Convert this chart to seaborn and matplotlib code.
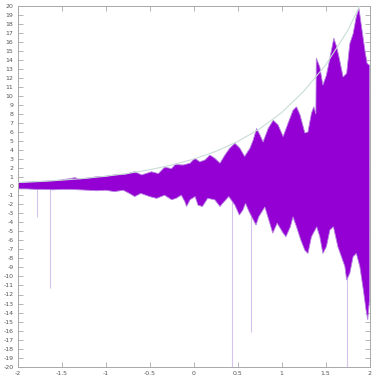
import numpy as np
import matplotlib
matplotlib.use("Agg")
import matplotlib.pyplot as plt
import seaborn as sns

# Smooth grey envelope curve
env_x = [-2.0, -1.75, -1.5, -1.25, -1.0, -0.75, -0.5, -0.25, 0.0, 0.25, 0.5,
         0.75, 1.0, 1.25, 1.5, 1.75, 2.0]
env_y = [0.41, 0.52, 0.67, 0.86, 1.1, 1.42, 1.82, 2.34, 3.0, 3.85, 4.95,
         6.35, 8.15, 10.5, 13.4, 17.2, 22.2]

# Upper edge of the dense purple signal
up_x = [-2.0, -1.9, -1.8, -1.7, -1.6, -1.5, -1.4, -1.35, -1.3, -1.2, -1.1, -1.0,
        -0.9, -0.78, -0.67, -0.59, -0.48, -0.40, -0.33, -0.25, -0.21, -0.12,
        -0.04, 0.015, 0.07, 0.128, 0.185, 0.24, 0.30, 0.356, 0.41, 0.47, 0.527,
        0.58, 0.64, 0.677, 0.716, 0.753, 0.79, 0.848, 0.905, 0.96, 1.018, 1.075,
        1.13, 1.17, 1.21, 1.265, 1.30, 1.34, 1.367, 1.39, 1.395, 1.435, 1.47,
        1.51, 1.55, 1.594, 1.625, 1.66, 1.70, 1.74, 1.776, 1.814, 1.85, 1.88,
        1.909, 1.947, 1.973, 2.0]
up_y = [0.4, 0.45, 0.5, 0.55, 0.6, 0.7, 0.85, 0.95, 0.8, 0.9, 1.05, 1.1,
        1.25, 1.3, 1.6, 1.25, 1.6, 1.4, 2.1, 1.95, 2.4, 2.35,
        2.55, 3.1, 2.7, 2.9, 3.45, 3.1, 2.55, 3.45, 4.2, 4.75, 4.2,
        3.3, 4.2, 5.1, 6.4, 5.7, 4.9, 6.4, 7.3, 6.8, 5.5, 7.0,
        8.4, 8.8, 7.9, 5.9, 6.0, 8.1, 8.8, 8.0, 14.2, 13.2, 11.2,
        12.3, 14.2, 16.4, 15.5, 14.0, 12.1, 12.5, 15.8, 16.9, 18.8, 19.7,
        17.7, 15.1, 13.6, 13.4]

# Lower edge of the dense purple signal
low_x = [-2.0, -1.9, -1.8, -1.7, -1.6, -1.5, -1.4, -1.3, -1.2, -1.1, -1.0, -0.9,
         -0.8, -0.73, -0.67, -0.6, -0.5, -0.42, -0.33, -0.25, -0.2, -0.14, -0.1,
         -0.08, -0.04, 0.017, 0.05, 0.10, 0.16, 0.24, 0.30, 0.33, 0.40, 0.47,
         0.52, 0.56, 0.59, 0.63, 0.68, 0.71, 0.74, 0.81, 0.86, 0.90, 0.95,
         1.018, 1.05, 1.10, 1.13, 1.17, 1.22, 1.265, 1.30, 1.34, 1.40, 1.435,
         1.47, 1.51, 1.55, 1.59, 1.64, 1.68, 1.72, 1.74, 1.776, 1.814, 1.85,
         1.89, 1.93, 1.96, 1.98, 2.0]
low_y = [-0.3, -0.3, -0.35, -0.35, -0.4, -0.35, -0.35, -0.4, -0.45, -0.5, -0.45, -0.6,
         -0.45, -0.8, -1.15, -0.8, -1.15, -1.35, -1.0, -1.5, -1.35, -1.0, -1.7,
         -2.25, -1.5, -1.15, -2.1, -2.25, -1.35, -1.5, -2.25, -1.9, -1.15, -2.1,
         -3.2, -2.65, -1.9, -2.8, -3.75, -4.3, -3.4, -2.3, -3.9, -5.2, -4.1,
         -5.2, -5.6, -4.5, -3.4, -4.5, -6.0, -7.1, -7.45, -5.6, -4.5, -5.6,
         -7.45, -6.7, -4.85, -4.5, -6.7, -7.8, -8.9, -10.4, -9.65, -7.8, -7.45,
         -8.9, -11.5, -13.7, -14.8, -12.6]

# Isolated thin downward spikes
spike_x = [-1.777, -1.63, 0.432, 0.651, 1.745]
spike_bottom = [-3.4, -11.3, -20.0, -16.2, -20.0]

x_ticks = [-2, -1.5, -1, -0.5, 0, 0.5, 1, 1.5, 2]
x_labels = ["-2", "-1.5", "-1", "-0.5", "0", "0.5", "1", "1.5", "2"]
y_ticks = list(range(-20, 21))

sns.set_style("white")
plt.rcParams['font.family'] = ['DejaVu Sans']

fig = plt.figure(figsize=(3.8, 3.8), dpi=100)
ax = fig.add_axes([0.0466, 0.035, 0.9258, 0.95])

purple = "#9400d3"
light_purple = "#d6c3ec"

# spikes
ax.vlines(spike_x, 0, spike_bottom, colors=light_purple, linewidth=0.8, zorder=1)

# band polygon
poly_x = np.concatenate([np.array(up_x), np.array(low_x)[::-1]])
poly_y = np.concatenate([np.array(up_y), np.array(low_y)[::-1]])
ax.fill(poly_x, poly_y, facecolor=purple, edgecolor="#b785e0", linewidth=0.6, zorder=2)

# envelope
sns.lineplot(x=env_x, y=env_y, color="#c9ddd6", linewidth=0.8, ax=ax, zorder=3)

ax.set_xlim(-2, 2)
ax.set_ylim(-20, 20)
ax.set_xticks(x_ticks)
ax.set_xticklabels(x_labels)
ax.set_yticks(y_ticks)
ax.set_yticklabels([str(v) for v in y_ticks])
ax.tick_params(axis='both', direction='in', length=3.5, width=0.6, color="#a8a8a8",
               labelsize=4.5, labelcolor="#555555", pad=3)
ax.tick_params(axis='x', top=True, bottom=True)
ax.tick_params(axis='y', left=True, right=True)
for s in ax.spines.values():
    s.set_color("#a8a8a8")
    s.set_linewidth(0.7)
ax.set_xlabel("")
ax.set_ylabel("")

fig.savefig("out.png", dpi=100)
